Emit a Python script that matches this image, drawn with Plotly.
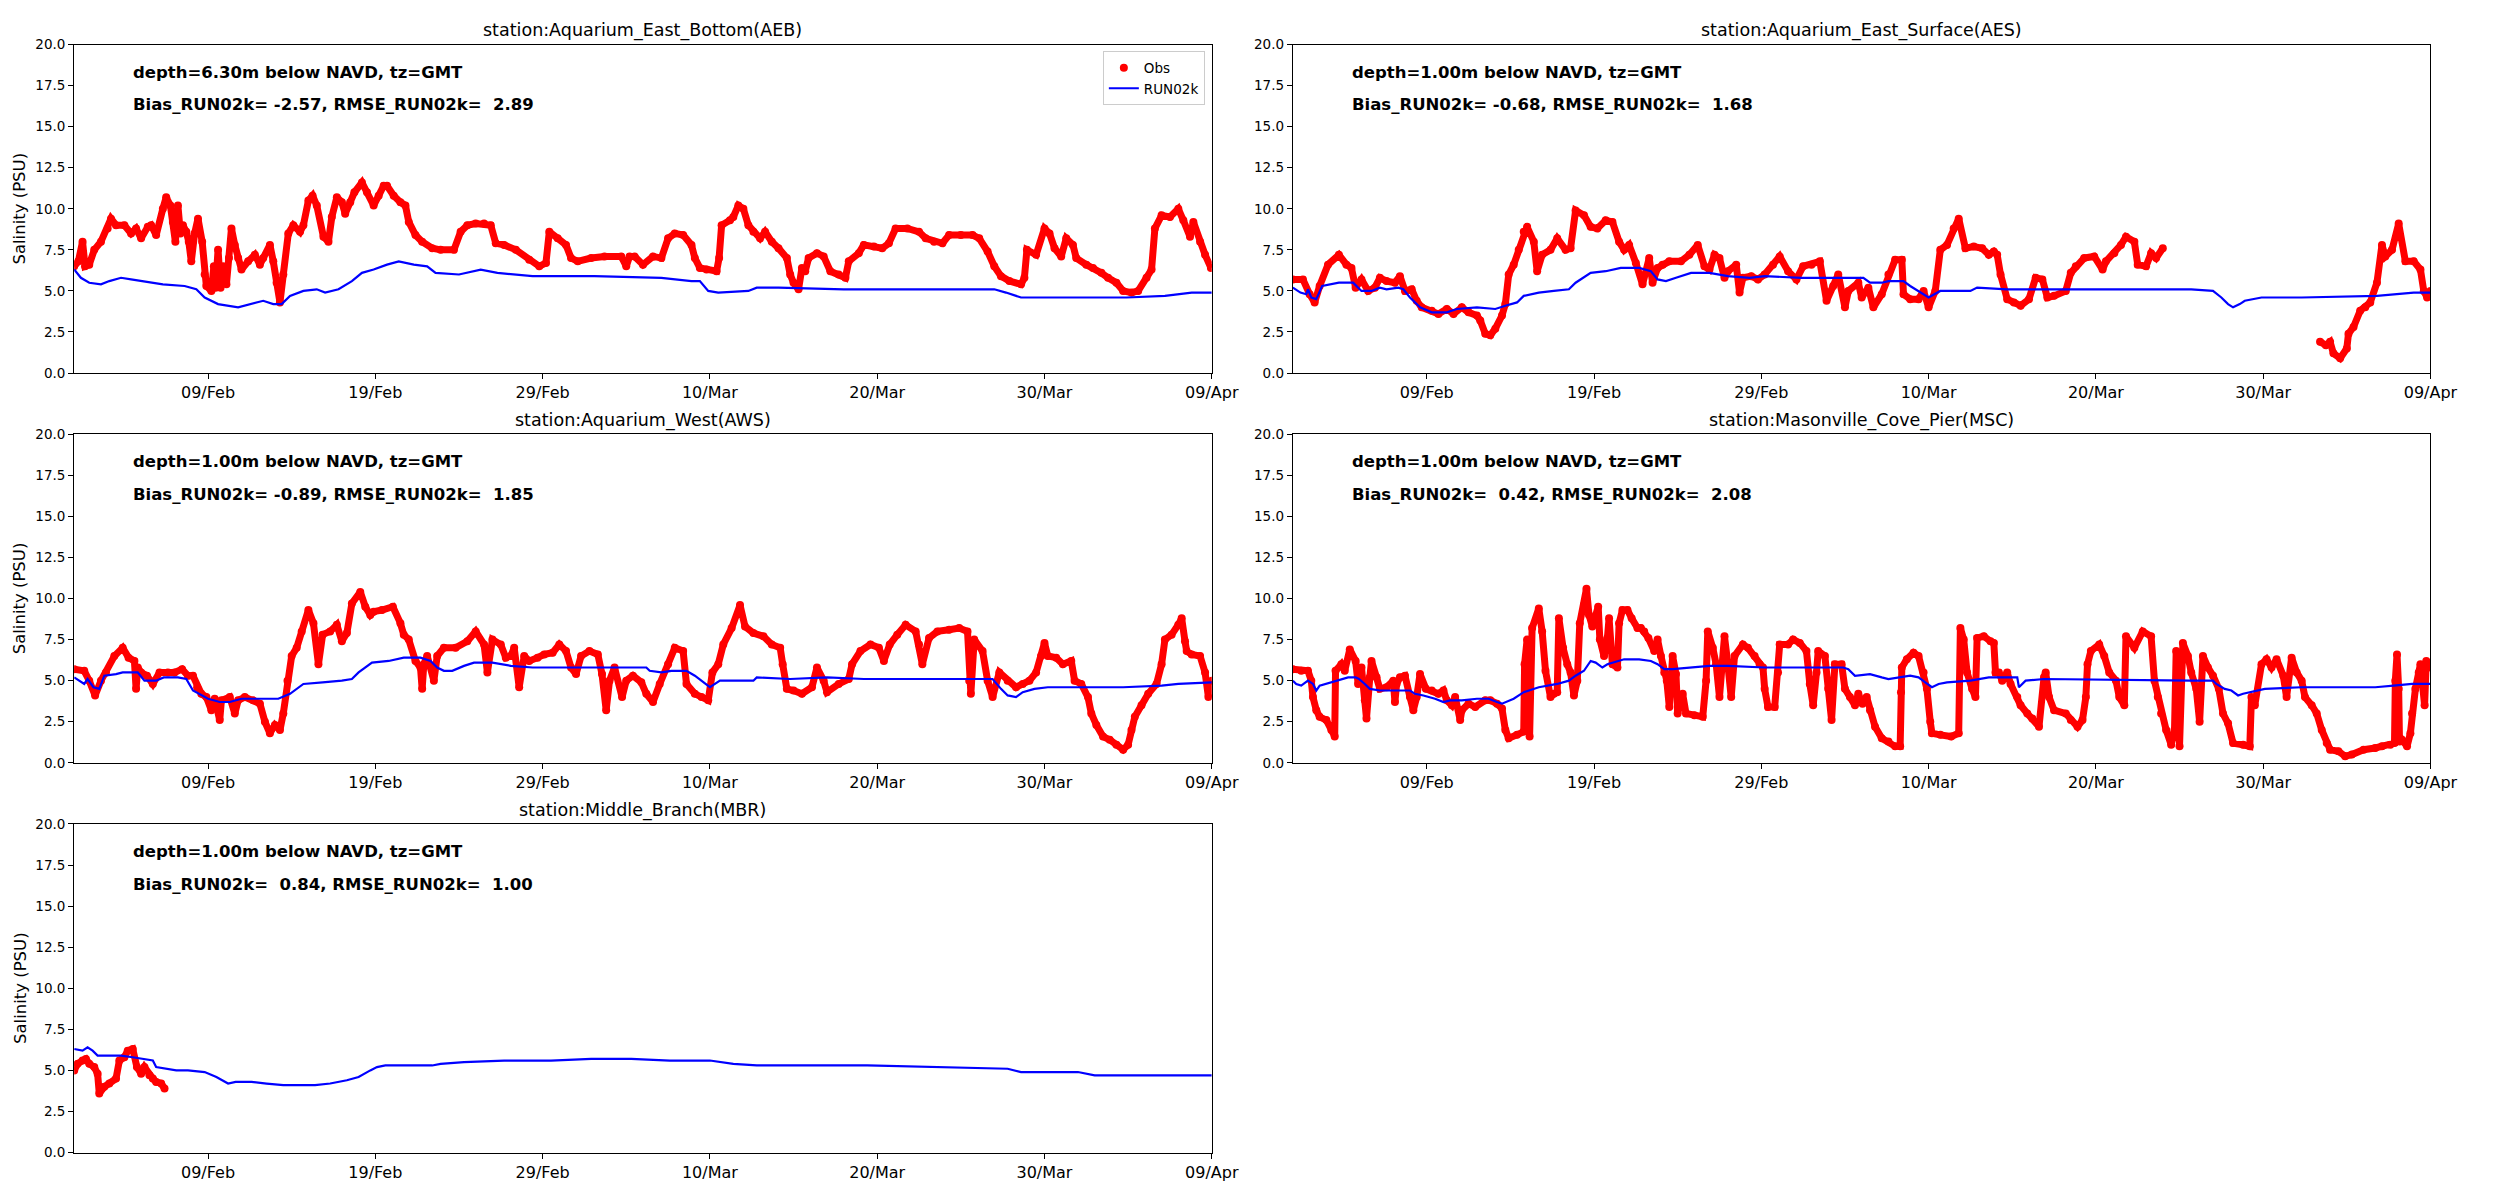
import plotly.graph_objects as go
import pandas as pd

# ---------------- data (day offset from 2024-02-01, salinity PSU) ----------------
START = "2024-02-01"
END = "2024-04-09"
tick_dates = ["2024-02-09", "2024-02-19", "2024-02-29", "2024-03-10", "2024-03-20", "2024-03-30", "2024-04-09"]
tick_labels = ["09/Feb", "19/Feb", "29/Feb", "10/Mar", "20/Mar", "30/Mar", "09/Apr"]
y_ticks = [0, 2.5, 5, 7.5, 10, 12.5, 15, 17.5, 20]

titles = ["station:Aquarium_East_Bottom(AEB)", "station:Aquarium_East_Surface(AES)",
          "station:Aquarium_West(AWS)", "station:Masonville_Cove_Pier(MSC)",
          "station:Middle_Branch(MBR)"]
depth_text = ["depth=6.30m below NAVD, tz=GMT", "depth=1.00m below NAVD, tz=GMT",
              "depth=1.00m below NAVD, tz=GMT", "depth=1.00m below NAVD, tz=GMT",
              "depth=1.00m below NAVD, tz=GMT"]
stats_text = ["Bias_RUN02k= -2.57, RMSE_RUN02k=  2.89", "Bias_RUN02k= -0.68, RMSE_RUN02k=  1.68",
              "Bias_RUN02k= -0.89, RMSE_RUN02k=  1.85", "Bias_RUN02k=  0.42, RMSE_RUN02k=  2.08",
              "Bias_RUN02k=  0.84, RMSE_RUN02k=  1.00"]

aeb_obs = [(0,6.5),(0.25,6.8),(0.5,8.0),(0.65,6.5),(0.9,6.6),(1.2,7.5),(1.6,8.0),(2.0,8.8),(2.2,9.4),(2.5,9.0),
    (3.0,9.0),(3.4,8.5),(3.7,8.8),(4.0,8.2),(4.4,8.9),(4.6,9.0),(4.9,8.4),(5.3,10.0),(5.5,10.7),(5.75,10.2),
    (5.9,9.2),(6.05,8.0),(6.2,10.2),(6.35,8.5),(6.5,9.0),(6.7,8.6),(6.85,8.0),(7.0,6.8),(7.2,8.5),(7.4,9.4),
    (7.65,8.0),(7.8,6.0),(7.9,5.3),(8.2,5.0),(8.35,6.5),(8.45,5.2),(8.6,7.5),(8.75,5.2),(8.9,6.5),(9.1,5.4),
    (9.25,7.0),(9.4,8.8),(9.6,7.8),(9.8,7.0),(10.0,6.3),(10.4,6.8),(10.8,7.2),(11.1,6.6),(11.3,7.0),(11.7,7.8),
    (11.9,6.8),(12.1,5.5),(12.3,4.3),(12.5,6.0),(12.8,8.5),(13.1,9.0),(13.5,8.6),(13.7,9.0),(14.0,10.5),(14.25,10.8),
    (14.5,10.2),(14.9,8.3),(15.2,8.0),(15.4,9.5),(15.7,10.7),(16.0,10.4),(16.2,9.7),(16.5,10.4),(16.75,11.0),(17.2,11.6),
    (17.5,11.0),(17.9,10.2),(18.2,10.8),(18.5,11.4),(18.7,11.4),(19.1,10.8),(19.5,10.4),(19.8,10.2),(20.0,9.2),(20.4,8.4),
    (20.8,8.0),(21.4,7.6),(21.9,7.5),(22.7,7.5),(23.1,8.6),(23.5,9.0),(24.0,9.1),(24.5,9.1),(24.9,9.0),(25.2,7.9),
    (25.7,7.8),(26.4,7.5),(27.2,6.9),(27.8,6.5),(28.2,6.7),(28.4,8.6),(28.9,8.2),(29.4,7.8),(29.7,7.0),(30.1,6.8),
    (30.9,7.0),(31.7,7.1),(32.7,7.1),(33.0,6.5),(33.2,7.1),(33.5,7.1),(34.0,6.6),(34.6,7.1),(35.1,7.0),(35.5,8.2),
    (35.9,8.5),(36.4,8.4),(36.9,7.8),(37.1,7.0),(37.4,6.4),(37.8,6.3),(38.4,6.2),(38.55,7.0),(38.7,9.0),(39.2,9.3),
    (39.4,9.5),(39.7,10.2),(40.0,10.0),(40.3,9.0),(40.6,8.6),(41.0,8.2),(41.3,8.6),(41.7,8.0),(42.1,7.6),(42.6,7.0),
    (42.8,6.0),(43.0,5.5),(43.3,5.1),(43.5,6.4),(43.7,6.2),(43.9,7.0),(44.4,7.3),(44.8,7.1),(45.2,6.2),(45.7,6.0),
    (46.1,5.8),(46.3,6.8),(46.9,7.3),(47.2,7.8),(47.8,7.7),(48.3,7.6),(48.7,7.9),(49.1,8.8),(49.8,8.8),(50.5,8.6),
    (50.9,8.2),(51.4,8.0),(51.9,7.9),(52.3,8.4),(53.0,8.4),(53.7,8.4),(54.1,8.2),(54.6,7.4),(55.0,6.5),(55.4,5.9),
    (55.9,5.6),(56.6,5.4),(56.8,5.8),(56.95,7.5),(57.5,7.2),(58.0,8.8),(58.3,8.5),(58.6,7.6),(59.0,7.1),(59.3,8.2),
    (59.7,7.8),(59.9,7.0),(60.5,6.6),(60.9,6.4),(61.4,6.1),(61.8,5.8),(62.3,5.5),(62.7,5.0),(63.2,4.9),(63.6,5.0),
    (64.1,5.8),(64.4,6.3),(64.6,8.8),(65.0,9.6),(65.5,9.5),(66.0,10.0),(66.3,9.3),(66.7,8.3),(66.9,9.2),(67.3,8.0),
    (67.6,7.2),(67.95,6.4)]
aeb_mod = [(0,6.3),(0.4,5.8),(0.9,5.5),(1.6,5.4),(2.1,5.6),(2.8,5.8),(3.4,5.7),(4.5,5.5),(5.3,5.4),(6.6,5.3),
    (7.3,5.1),(7.8,4.6),(8.6,4.2),(9.8,4.0),(10.6,4.2),(11.3,4.4),(11.9,4.2),(12.4,4.2),(12.9,4.7),(13.7,5.0),
    (14.5,5.1),(15.0,4.9),(15.8,5.1),(16.6,5.6),(17.2,6.1),(17.9,6.3),(18.7,6.6),(19.4,6.8),(20.3,6.6),(21.1,6.5),
    (21.6,6.1),(23.0,6.0),(24.3,6.3),(25.3,6.1),(27.4,5.9),(28.5,5.9),(31.1,5.9),(35.1,5.8),(36.9,5.6),(37.4,5.6),
    (37.9,5.0),(38.5,4.9),(40.3,5.0),(40.8,5.2),(42.1,5.2),(46.0,5.1),(55.0,5.1),(55.7,4.9),(56.6,4.6),(57.7,4.6),
    (59.5,4.6),(62.9,4.6),(65.2,4.7),(66.8,4.9),(68.0,4.9)]

aes_obs = [(0,5.7),(0.6,5.7),(1.0,4.8),(1.3,4.3),(1.6,5.3),(2.1,6.6),(2.75,7.2),(3.2,6.6),(3.5,6.4),(3.75,5.2),
    (4.1,5.7),(4.5,5.0),(4.9,5.2),(5.2,5.8),(5.6,5.6),(6.1,5.5),(6.4,5.9),(6.7,5.0),(7.1,5.1),(7.4,4.4),
    (7.7,4.0),(8.3,3.8),(8.7,3.6),(9.2,3.9),(9.6,3.6),(10.1,4.0),(10.5,3.7),(11.0,3.5),(11.2,3.2),(11.5,2.4),
    (11.8,2.3),(12.1,2.7),(12.5,3.5),(12.7,4.2),(12.9,6.0),(13.2,6.6),(13.5,7.5),(13.8,8.6),(14.0,8.9),(14.4,8.0),
    (14.6,6.2),(14.9,7.2),(15.4,7.5),(15.8,8.2),(16.3,7.5),(16.6,7.6),(16.9,9.9),(17.4,9.6),(17.8,8.9),(18.2,8.8),
    (18.7,9.3),(19.1,9.2),(19.5,8.0),(19.8,7.5),(20.1,7.8),(20.5,6.7),(20.9,5.4),(21.3,7.0),(21.5,5.5),(21.8,6.4),
    (22.1,6.6),(22.5,6.8),(23.2,6.8),(23.7,7.2),(24.2,7.8),(24.6,6.5),(24.9,6.3),(25.2,7.2),(25.5,7.0),(25.8,5.8),
    (26.0,6.2),(26.5,6.6),(26.7,4.9),(26.9,5.8),(27.4,5.9),(27.8,5.7),(28.2,6.0),(28.7,6.6),(29.1,7.1),(29.6,6.2),
    (30.1,5.7),(30.5,6.5),(31.0,6.6),(31.5,6.8),(31.9,4.4),(32.3,5.3),(32.6,6.0),(33.0,4.0),(33.2,5.0),(33.8,5.5),
    (34.0,4.6),(34.4,5.2),(34.7,4.0),(35.2,4.8),(35.6,6.0),(36.0,6.9),(36.4,6.9),(36.5,4.8),(36.9,4.5),(37.4,4.5),
    (37.7,5.0),(38.0,4.0),(38.4,5.0),(38.7,7.5),(39.1,7.8),(39.5,8.8),(39.8,9.4),(40.2,7.6),(40.7,7.7),(41.2,7.6),
    (41.6,7.2),(41.9,7.4),(42.1,7.2),(42.3,6.0),(42.7,4.5),(43.1,4.3),(43.5,4.1),(44.0,4.5),(44.4,5.8),(44.8,5.7),
    (45.1,4.6),(45.5,4.7),(46.2,5.0),(46.5,6.1),(46.8,6.5),(47.3,7.0),(47.9,7.1),(48.4,6.3),(48.6,6.8),(49.1,7.3),
    (49.5,7.8),(49.8,8.3),(50.3,8.0),(50.5,6.6),(51.0,6.5),(51.3,7.3),(51.6,7.0),(52.0,7.6),(56.0,None),
    (61.4,1.9),(61.75,1.7),(62.0,1.9),(62.2,1.2),(62.6,0.9),(63.0,1.5),(63.1,2.4),(63.4,2.8),(63.8,3.8),(64.1,4.0),
    (64.4,4.3),(64.8,5.5),(65.1,7.8),(65.3,7.1),(65.7,7.5),(66.1,9.1),(66.5,6.8),(67.0,6.8),(67.4,6.3),(67.6,5.0),
    (67.8,4.6),(68.0,5.0)]
aes_mod = [(0,5.2),(0.45,4.9),(0.8,4.8),(0.9,5.1),(1.1,4.6),(1.4,4.5),(1.75,5.3),(2.3,5.4),(2.75,5.5),(3.6,5.5),
    (4.1,5.0),(4.7,5.0),(5.2,5.2),(5.6,5.1),(6.3,5.2),(6.6,5.1),(7.0,4.6),(7.6,4.0),(8.3,3.7),(9.2,3.7),
    (9.8,3.9),(11.0,4.0),(12.1,3.9),(12.7,4.1),(13.4,4.3),(13.8,4.7),(14.7,4.9),(15.6,5.0),(16.5,5.1),(16.9,5.5),
    (17.8,6.1),(18.7,6.2),(19.6,6.4),(20.7,6.4),(21.4,6.2),(21.8,5.7),(22.3,5.6),(22.9,5.8),(23.8,6.1),(24.9,6.1),
    (26.0,5.9),(27.3,5.8),(28.2,5.9),(30.4,5.8),(34.1,5.8),(34.5,5.5),(35.2,5.5),(35.6,5.6),(36.5,5.6),(36.9,5.3),
    (38.0,4.6),(38.7,5.0),(40.5,5.0),(40.9,5.2),(42.7,5.1),(45.7,5.1),(49.3,5.1),(53.7,5.1),(55.0,5.0),(55.5,4.6),
    (55.9,4.2),(56.2,4.0),(56.6,4.2),(56.9,4.4),(57.9,4.6),(60.3,4.6),(64.8,4.7),(67.0,4.9),(68.0,4.9)]

aws_obs = [(0,5.7),(0.6,5.6),(0.9,5.0),(1.25,4.1),(1.6,5.0),(1.9,5.5),(2.4,6.5),(2.9,7.0),(3.25,6.4),(3.6,6.2),
    (3.7,4.5),(3.8,5.8),(4.0,5.5),(4.35,5.3),(4.7,4.8),(5.1,5.5),(5.6,5.5),(6.0,5.5),(6.45,5.7),(6.8,5.3),
    (7.1,5.3),(7.35,4.6),(7.6,4.2),(7.9,4.0),(8.2,3.2),(8.4,3.9),(8.7,2.6),(8.8,3.8),(9.3,4.0),(9.6,3.0),
    (9.8,3.8),(10.2,4.0),(10.7,3.8),(11.1,3.6),(11.4,2.5),(11.7,1.8),(12.0,2.3),(12.3,2.0),(12.5,3.0),(12.75,5.0),
    (13.0,6.5),(13.3,7.0),(13.6,8.0),(14.0,9.3),(14.3,8.5),(14.6,6.0),(14.85,7.8),(15.3,8.0),(15.7,8.4),(16.0,7.4),
    (16.3,7.9),(16.6,9.7),(17.1,10.4),(17.4,9.5),(17.7,9.0),(17.9,9.2),(18.4,9.3),(19.05,9.5),(19.5,8.5),(19.7,7.8),
    (20.0,7.5),(20.4,6.2),(20.7,5.8),(20.8,4.5),(20.9,6.0),(21.1,6.5),(21.5,5.0),(21.7,6.5),(22.1,7.0),(22.8,7.0),
    (23.5,7.4),(24.0,8.0),(24.5,7.2),(24.7,5.5),(25.0,7.5),(25.5,7.2),(25.8,6.4),(26.1,6.5),(26.3,7.0),(26.6,4.6),
    (26.9,6.5),(27.2,6.2),(27.7,6.4),(28.1,6.6),(28.6,6.7),(29.0,7.2),(29.4,6.8),(29.7,5.8),(30.0,5.4),(30.3,6.5),
    (30.8,6.8),(31.3,6.6),(31.55,5.4),(31.8,3.2),(32.0,5.0),(32.3,5.8),(32.75,4.0),(33.0,5.0),(33.4,5.3),(33.9,4.9),
    (34.2,4.2),(34.6,3.7),(35.0,4.8),(35.5,6.0),(35.9,7.0),(36.4,6.8),(36.6,4.8),(37.1,4.2),(37.5,4.0),(37.9,3.8),
    (38.15,5.5),(38.5,6.0),(38.8,7.2),(39.3,8.2),(39.8,9.6),(40.1,8.3),(40.6,7.9),(41.2,7.7),(41.7,7.2),(42.2,7.0),
    (42.35,6.0),(42.6,4.5),(43.0,4.4),(43.5,4.2),(44.1,4.6),(44.4,5.8),(44.8,5.0),(45.0,4.3),(45.7,4.8),(46.3,5.1),
    (46.5,6.0),(47.0,6.8),(47.6,7.2),(48.1,7.0),(48.4,6.2),(48.75,7.2),(49.2,7.8),(49.7,8.4),(50.3,8.0),(50.5,7.2),
    (50.7,6.0),(51.1,7.6),(51.6,8.0),(52.3,8.1),(52.9,8.2),(53.4,8.0),(53.5,5.0),(53.6,4.2),(53.8,7.5),(54.3,6.8),
    (54.6,5.0),(54.9,4.0),(55.3,5.5),(55.8,5.0),(56.3,4.6),(56.7,4.8),(57.1,5.0),(57.5,5.5),(57.8,6.5),(58.0,7.3),
    (58.2,6.5),(58.7,6.4),(59.1,6.0),(59.6,6.2),(59.8,5.0),(60.2,4.8),(60.6,4.0),(60.8,3.0),(61.1,2.3),(61.5,1.6),
    (61.9,1.4),(62.3,1.1),(62.7,0.8),(63.0,1.1),(63.2,2.0),(63.4,2.8),(63.8,3.5),(64.2,4.2),(64.7,4.8),(65.0,6.0),
    (65.2,7.5),(65.6,7.8),(66.0,8.4),(66.2,8.8),(66.4,7.4),(66.5,6.8),(66.8,6.6),(67.3,6.5),(67.6,5.5),(67.8,4.0),
    (68.0,5.0)]
aws_mod = [(0,5.2),(0.4,4.9),(0.6,4.8),(0.8,5.1),(1.15,4.6),(1.5,4.5),(1.8,5.3),(2.5,5.4),(2.9,5.5),(3.8,5.5),
    (4.2,5.0),(4.9,5.0),(5.35,5.2),(6.2,5.2),(6.7,5.1),(7.1,4.4),(8.0,3.9),(8.7,3.7),(9.3,3.7),(10.0,3.9),
    (11.5,3.9),(12.2,3.9),(12.9,4.2),(13.7,4.8),(14.85,4.9),(16.0,5.0),(16.6,5.1),(17.0,5.5),(17.8,6.1),(18.8,6.2),
    (19.7,6.4),(20.7,6.4),(21.3,6.2),(21.7,5.8),(22.1,5.6),(22.6,5.6),(23.3,5.9),(23.9,6.1),(25.0,6.1),(26.1,5.9),
    (27.4,5.8),(34.2,5.8),(34.4,5.6),(35.1,5.5),(35.7,5.6),(36.6,5.6),(37.1,5.3),(38.0,4.6),(38.6,5.0),(40.6,5.0),
    (40.8,5.2),(42.8,5.1),(45.0,5.2),(47.2,5.1),(54.9,5.1),(55.4,4.5),(55.8,4.1),(56.3,4.0),(56.7,4.3),(57.4,4.5),
    (58.2,4.6),(62.7,4.6),(65.0,4.7),(66.0,4.8),(68.0,4.9)]

msc_obs = [(0,5.7),(0.5,5.6),(0.9,5.6),(1.1,5.0),(1.2,4.0),(1.4,3.2),(1.6,2.8),(2.0,2.6),(2.3,2.0),(2.5,1.6),
    (2.55,5.6),(2.9,6.0),(3.1,5.6),(3.4,6.9),(3.75,6.2),(3.9,4.8),(4.1,5.8),(4.3,3.8),(4.4,2.7),(4.6,5.2),
    (4.7,6.2),(5.0,5.2),(5.2,4.5),(5.6,4.6),(6.0,5.0),(6.1,3.7),(6.2,4.8),(6.4,5.2),(6.7,5.3),(7.0,4.0),
    (7.2,3.2),(7.4,4.0),(7.6,5.4),(7.95,4.5),(8.3,4.4),(8.7,4.2),(9.0,4.4),(9.2,3.8),(9.5,3.5),(9.7,4.0),
    (10.0,2.6),(10.1,3.2),(10.5,3.6),(10.9,3.4),(11.5,3.8),(11.8,3.8),(12.2,3.6),(12.5,3.3),(12.7,2.0),(12.9,1.5),
    (13.4,1.7),(13.8,1.9),(13.85,6.0),(14.0,7.5),(14.15,1.6),(14.3,8.2),(14.7,9.4),(14.9,8.0),(15.1,5.6),(15.4,4.0),
    (15.6,4.2),(15.8,4.3),(15.9,8.8),(16.15,7.0),(16.4,6.0),(16.6,5.5),(16.8,4.1),(17.0,5.0),(17.15,8.5),(17.4,9.6),
    (17.55,10.6),(17.7,9.0),(17.9,8.3),(18.25,9.5),(18.35,7.5),(18.6,6.5),(18.8,7.6),(18.9,8.8),(19.1,6.0),(19.4,5.8),
    (19.5,8.5),(19.7,9.3),(20.0,9.3),(20.25,8.8),(20.6,8.2),(20.8,8.2),(21.0,8.0),(21.25,7.6),(21.6,6.8),(21.8,7.5),
    (22.0,6.5),(22.2,5.5),(22.35,5.0),(22.5,3.4),(22.7,6.5),(22.9,5.4),(23.0,3.0),(23.3,4.2),(23.5,3.0),(24.0,2.9),
    (24.5,2.8),(24.7,5.0),(24.8,8.0),(25.1,7.0),(25.3,6.0),(25.5,4.0),(25.8,7.7),(26.0,6.0),(26.2,4.0),(26.4,6.5),
    (26.9,7.2),(27.2,7.0),(27.6,6.5),(27.9,6.0),(28.1,5.8),(28.2,4.5),(28.4,3.4),(28.8,3.4),(29.0,5.5),(29.1,7.2),
    (29.6,7.2),(29.9,7.5),(30.3,7.3),(30.7,6.8),(30.9,4.8),(31.1,3.5),(31.3,5.5),(31.4,6.8),(31.8,6.5),(32.0,4.5),
    (32.2,2.6),(32.4,6.0),(32.8,6.0),(33.0,4.5),(33.3,4.0),(33.6,3.5),(33.8,4.2),(34.05,3.6),(34.3,4.0),(34.5,3.2),
    (34.8,2.2),(35.2,1.5),(35.6,1.3),(36.0,1.0),(36.3,1.0),(36.35,4.3),(36.4,5.8),(36.7,6.3),(37.1,6.7),(37.4,6.5),
    (37.7,5.5),(37.9,4.5),(38.1,2.5),(38.2,1.8),(38.7,1.7),(39.35,1.6),(39.8,1.8),(39.9,8.2),(40.1,7.5),(40.3,5.5),
    (40.6,4.5),(40.8,4.0),(40.9,7.6),(41.3,7.7),(41.7,7.4),(41.9,7.3),(42.0,5.5),(42.2,5.5),(42.4,5.0),(42.7,5.5),
    (42.9,4.8),(43.3,4.0),(43.5,3.5),(43.9,3.0),(44.2,2.7),(44.6,2.2),(44.9,5.2),(45.0,5.5),(45.2,4.0),(45.5,3.2),
    (46.2,3.0),(46.5,2.6),(46.9,2.2),(47.2,2.6),(47.4,4.0),(47.5,6.0),(47.7,6.8),(48.2,7.2),(48.5,6.5),(48.8,5.5),
    (49.2,5.0),(49.4,4.0),(49.7,3.5),(49.8,7.7),(50.3,7.0),(50.8,8.0),(51.3,7.7),(51.5,5.0),(51.7,4.0),(51.9,3.0),
    (52.2,2.0),(52.5,1.1),(52.7,2.0),(52.8,6.8),(53.0,1.0),(53.2,7.3),(53.5,6.5),(53.7,5.5),(54.0,4.5),(54.2,2.5),
    (54.4,6.5),(54.7,5.8),(55.0,5.3),(55.35,4.5),(55.6,3.0),(55.9,2.4),(56.2,1.2),(56.8,1.1),(57.2,1.0),(57.3,4.0),
    (57.5,3.5),(57.9,6.0),(58.2,6.3),(58.5,5.8),(58.8,6.3),(59.2,5.3),(59.4,4.0),(59.7,6.4),(60.0,5.5),(60.3,5.0),
    (60.5,4.0),(60.9,3.5),(61.2,3.0),(61.5,2.0),(61.8,1.2),(62.0,0.8),(62.5,0.7),(62.9,0.4),(63.3,0.5),(64.0,0.8),
    (64.7,0.9),(65.1,1.0),(65.6,1.1),(65.85,1.2),(65.9,5.0),(66.0,6.6),(66.1,4.5),(66.15,1.3),(66.3,1.4),(66.6,1.0),
    (66.8,1.8),(66.9,3.0),(67.1,4.5),(67.3,5.5),(67.4,6.0),(67.5,5.0),(67.65,3.5),(67.75,6.2),(67.9,5.8)]
msc_mod = [(0,5.0),(0.2,4.8),(0.5,4.7),(0.8,4.9),(0.9,5.0),(1.2,4.8),(1.4,4.4),(1.6,4.7),(2.3,4.9),(2.75,5.0),
    (3.3,5.2),(3.75,5.2),(3.95,5.1),(4.3,4.8),(4.6,4.5),(5.2,4.4),(7.0,4.4),(7.3,4.2),(7.8,4.1),(8.5,3.9),
    (9.0,3.7),(9.4,3.8),(10.1,3.8),(11.0,3.9),(11.7,3.9),(12.2,3.7),(12.5,3.6),(13.2,3.9),(13.8,4.3),(14.7,4.6),
    (15.4,4.7),(15.8,4.8),(16.5,5.0),(16.9,5.3),(17.4,5.6),(17.8,6.2),(18.1,6.1),(18.5,5.8),(18.8,6.0),(19.4,6.2),
    (19.8,6.3),(20.7,6.3),(21.4,6.2),(21.8,6.0),(22.2,5.7),(22.7,5.7),(23.8,5.8),(24.9,5.9),(26.0,5.9),(28.2,5.8),
    (32.9,5.8),(33.2,5.7),(33.6,5.3),(34.5,5.4),(35.2,5.2),(35.6,5.1),(36.9,5.3),(37.4,5.2),(37.8,4.9),(38.2,4.6),
    (38.6,4.8),(39.1,4.9),(40.5,5.0),(41.6,5.2),(43.3,5.2),(43.4,4.6),(43.8,5.0),(44.9,5.1),(53.7,5.0),(55.0,5.0),
    (55.2,4.8),(55.7,4.5),(56.1,4.4),(56.5,4.1),(56.8,4.2),(57.7,4.4),(58.1,4.5),(60.3,4.6),(64.7,4.6),(65.8,4.7),
    (66.9,4.8),(68.0,4.8)]

mbr_obs = [(0,5.0),(0.2,5.4),(0.5,5.6),(0.7,5.7),(0.9,5.4),(1.2,5.2),(1.4,4.8),(1.5,3.6),(1.8,4.0),(2.1,4.2),
    (2.5,4.5),(2.7,5.6),(3.0,5.8),(3.2,6.2),(3.5,6.3),(3.75,5.2),(4.0,4.8),(4.2,5.2),(4.5,4.7),(4.7,4.5),
    (4.9,4.3),(5.2,4.2),(5.4,3.9)]
mbr_mod = [(0,6.3),(0.5,6.2),(0.8,6.4),(1.1,6.2),(1.4,5.9),(2.1,5.9),(2.8,5.9),(3.5,5.8),(4.2,5.7),(4.7,5.6),
    (4.9,5.2),(5.6,5.1),(6.1,5.0),(6.8,5.0),(7.8,4.9),(8.5,4.6),(9.2,4.2),(9.65,4.3),(10.6,4.3),(11.5,4.2),
    (12.5,4.1),(14.4,4.1),(15.3,4.2),(16.3,4.4),(17.0,4.6),(17.7,5.0),(18.1,5.2),(18.6,5.3),(20.0,5.3),(21.4,5.3),
    (21.9,5.4),(23.3,5.5),(25.7,5.6),(28.5,5.6),(30.9,5.7),(33.3,5.7),(35.6,5.6),(38.0,5.6),(39.4,5.4),(40.8,5.3),
    (47.4,5.3),(52.1,5.2),(55.8,5.1),(56.6,4.9),(60.0,4.9),(61.0,4.7),(63.3,4.7),(68.0,4.7)]

obs_series = [aeb_obs, aes_obs, aws_obs, msc_obs, mbr_obs]
mod_series = [aeb_mod, aes_mod, aws_mod, msc_mod, mbr_mod]

# ---------------- layout geometry ----------------
W, H = 2500, 1200
col_dom = [[75 / W, 1225 / W], [1307 / W, 2457 / W]]
row_dom = [[1 - 370 / H, 1 - 37 / H], [1 - 765 / H, 1 - 432 / H], [1 - 1160 / H, 1 - 827 / H]]
panel_pos = [(0, 0), (0, 1), (1, 0), (1, 1), (2, 0)]
title_y = [1 - 23 / H, 1 - 23 / H, 1 - 418 / H, 1 - 418 / H, 1 - 813 / H]

base = pd.Timestamp(START)


def to_dates(days):
    return [base + pd.Timedelta(days=d) for d in days]


FONT = "DejaVu Sans"
fig = go.Figure()

# legend-only marker entry for observations
fig.add_trace(go.Scatter(x=[None], y=[None], mode="markers", name="Obs",
                         marker=dict(color="#ff0000", size=8), xaxis="x", yaxis="y",
                         showlegend=True))

layout_axes = {}
annotations = []
for i, (r, c) in enumerate(panel_pos):
    n = "" if i == 0 else str(i + 1)
    xa, ya = "x" + n, "y" + n
    od, ov = zip(*obs_series[i])
    md, mv = zip(*mod_series[i])
    fig.add_trace(go.Scatter(x=to_dates(od), y=list(ov), mode="lines+markers", name="Obs",
                             line=dict(color="#ff0000", width=7), marker=dict(color="#ff0000", size=8),
                             xaxis=xa, yaxis=ya, showlegend=False, connectgaps=False))
    fig.add_trace(go.Scatter(x=to_dates(md), y=list(mv), mode="lines", name="RUN02k",
                             line=dict(color="#0000ff", width=2.2), xaxis=xa, yaxis=ya,
                             showlegend=(i == 0)))
    layout_axes["xaxis" + n] = dict(
        domain=col_dom[c], anchor=ya, type="date", range=[START, END],
        tickvals=tick_dates, ticktext=tick_labels, ticks="outside", ticklen=5, tickwidth=1,
        tickcolor="black", showline=True, mirror=True, linecolor="black", linewidth=1.2,
        showgrid=False, zeroline=False, tickfont=dict(family=FONT, size=16, color="black"))
    layout_axes["yaxis" + n] = dict(
        domain=row_dom[r], anchor=xa, range=[0, 20], tickvals=y_ticks,
        ticktext=["%.1f" % v for v in y_ticks], ticks="outside", ticklen=5, tickwidth=1,
        tickcolor="black", showline=True, mirror=True, linecolor="black", linewidth=1.2,
        showgrid=False, zeroline=False, tickfont=dict(family=FONT, size=13.5, color="black"))
    annotations.append(dict(text=titles[i], xref="paper", yref="paper",
                            x=(col_dom[c][0] + col_dom[c][1]) / 2, y=title_y[i],
                            xanchor="center", yanchor="middle", showarrow=False,
                            font=dict(family=FONT, size=17.5, color="black")))
    annotations.append(dict(text="<b>" + depth_text[i] + "</b>", xref=xa + " domain", yref=ya + " domain",
                            x=0.05, y=0.916, xanchor="left", yanchor="middle", showarrow=False,
                            font=dict(family=FONT, size=16.5, color="black")))
    annotations.append(dict(text="<b>" + stats_text[i] + "</b>", xref=xa + " domain", yref=ya + " domain",
                            x=0.05, y=0.817, xanchor="left", yanchor="middle", showarrow=False,
                            font=dict(family=FONT, size=16.5, color="black")))
    if c == 0:
        annotations.append(dict(text="Salinity (PSU)", xref="paper", yref="paper",
                                x=20 / W, y=(row_dom[r][0] + row_dom[r][1]) / 2, textangle=-90,
                                xanchor="center", yanchor="middle", showarrow=False,
                                font=dict(family=FONT, size=16.5, color="black")))

fig.update_layout(
    width=W, height=H, autosize=False,
    margin=dict(l=0, r=0, t=0, b=0),
    paper_bgcolor="white", plot_bgcolor="white",
    font=dict(family=FONT, color="black"),
    annotations=annotations,
    legend=dict(x=1218 / W, y=1 - 44 / H, xanchor="right", yanchor="top",
                bgcolor="rgba(255,255,255,0.85)", bordercolor="#cccccc", borderwidth=1,
                font=dict(family=FONT, size=13.5, color="black"), itemwidth=30,
                tracegroupgap=0),
    **layout_axes,
)

fig.write_html("out.html", config={"displayModeBar": False},
               post_script="document.body.style.margin='0';")
